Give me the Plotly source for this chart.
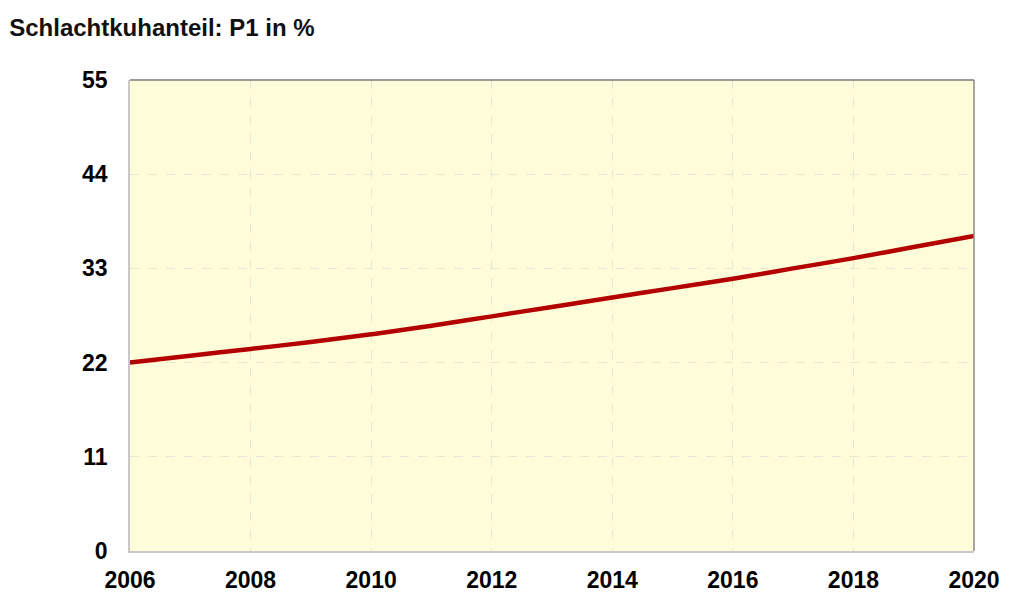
import plotly.graph_objects as go

years = list(range(2006, 2021))
p1_share = [22.0, 22.8, 23.6, 24.4, 25.3, 26.3, 27.4, 28.5, 29.6, 30.7, 31.8, 33.0, 34.2, 35.5, 36.8]
x_ticks = [2006, 2008, 2010, 2012, 2014, 2016, 2018, 2020]
y_ticks = [0, 11, 22, 33, 44, 55]
title_text = "Schlachtkuhanteil: P1 in %"

font_family = "Liberation Sans, Arial, sans-serif"

fig = go.Figure()
fig.add_trace(go.Scatter(
    x=years, y=p1_share, mode="lines",
    line=dict(color="#B30000", width=4.5, shape="spline"),
    hoverinfo="x+y",
))

fig.update_layout(
    width=1024, height=606,
    margin=dict(l=130, r=50, t=80, b=55),
    paper_bgcolor="white",
    plot_bgcolor="#FFFDD9",
    showlegend=False,
    font=dict(family=font_family, color="black"),
    title=dict(text="<b>" + title_text + "</b>", x=0.009, xanchor="left",
               y=0.955, yanchor="middle",
               font=dict(size=24, family=font_family, color="#111")),
)
fig.update_xaxes(
    range=[2006, 2020], tickvals=x_ticks, ticktext=[f"<b>{t}</b>" for t in x_ticks],
    tickfont=dict(size=23, family=font_family, color="black"),
    showgrid=True, gridcolor="#E6E6D2", griddash="dash", gridwidth=1,
    showline=True, linecolor="#C8C8C8", linewidth=1.5,
    zeroline=False, ticks="", ticklabelstandoff=8,
)
fig.update_yaxes(
    range=[0, 55], tickvals=y_ticks, ticktext=[f"<b>{t}</b>" for t in y_ticks],
    tickfont=dict(size=23, family=font_family, color="black"),
    showgrid=True, gridcolor="#E6E6D2", griddash="dash", gridwidth=1,
    showline=True, linecolor="#C8C8C8", linewidth=1.5,
    zeroline=False, ticks="", ticklabelstandoff=16,
)
# darker top and right frame edges
fig.add_shape(type="line", xref="paper", yref="paper", x0=0, x1=1, y0=1, y1=1,
              line=dict(color="#7A7A7A", width=1.5))
fig.add_shape(type="line", xref="paper", yref="paper", x0=1, x1=1, y0=0, y1=1,
              line=dict(color="#8A8A8A", width=1.5))

fig.write_html("out.html")
